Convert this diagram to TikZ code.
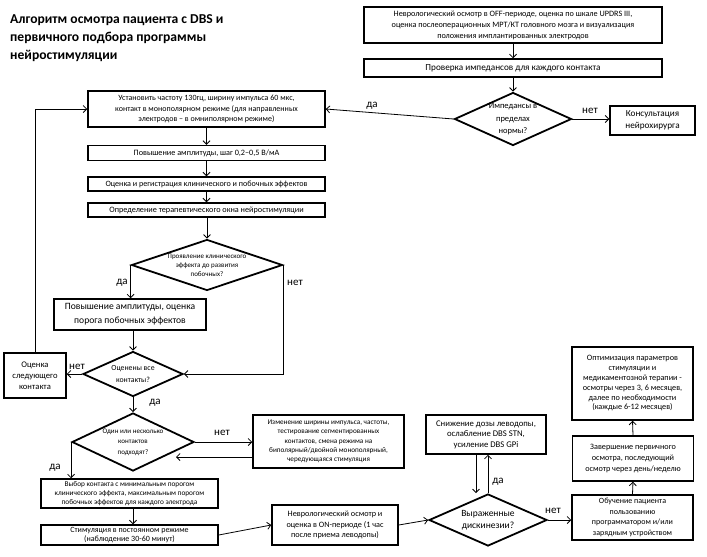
\documentclass[tikz,border=0pt]{standalone}
\usepackage{fontspec}
\setmainfont{Carlito}
\usetikzlibrary{shapes.geometric,arrows.meta}
\newcommand\myfs[2]{\fontsize{#1}{#2}\selectfont}
\begin{document}
\begin{tikzpicture}[x=1pt,y=-1pt,
  box/.style={draw, line width=1.5pt, inner sep=0pt, align=center},
  dia/.style={draw, diamond, line width=1.8pt, inner sep=0pt},
  arr/.style={line width=0.8pt, -{Straight Barb[length=3.5pt,width=7pt]}},
  lbl/.style={font=\myfs{11}{12}, inner sep=0pt},
  ]
\useasboundingbox[fill=white] (0,0) rectangle (707,557);

\node[anchor=north west, align=left, inner sep=0pt, font=\myfs{13.6}{18}\bfseries] (title) at (10,14)
  {Алгоритм осмотра пациента с DBS и\\первичного подбора программы\\нейростимуляции};

\node[box, minimum width=298pt, minimum height=36pt, font=\myfs{8.2}{11}] (b1) at (513,25)
  {Неврологический осмотр в OFF-периоде, оценка по шкале UPDRS III,\\оценка послеоперационных МРТ/КТ головного мозга и визуализация\\положения имплантированных электродов};
\node[box, minimum width=298pt, minimum height=18pt, font=\myfs{9.2}{11}] (b2) at (513,68)
  {Проверка импедансов для каждого контакта};
\node[dia, minimum width=117pt, minimum height=53pt,
  label={[font=\myfs{8.5}{12.5}, align=center]center:{Импедансы в\\пределах\\нормы?}}] (d1) at (513,119) {};
\node[box, minimum width=85pt, minimum height=29pt, font=\myfs{9.2}{12}] (cons) at (652.5,120.5)
  {Консультация\\нейрохирурга};

\node[box, minimum width=237pt, minimum height=36pt, font=\myfs{8}{10.5}] (b3) at (206.5,109)
  {Установить частоту 130гц, ширину импульса 60 мкс,\\контакт в монополярном режиме (для направленных\\электродов – в омниполярном режиме)};
\node[box, minimum width=237pt, minimum height=15pt, font=\myfs{8.2}{10}] (b4) at (206.5,153)
  {Повышение амплитуды, шаг 0,2–0,5 В/мА};
\node[box, minimum width=237pt, minimum height=14pt, font=\myfs{8.1}{10}] (b5) at (206.5,184)
  {Оценка и регистрация клинического и побочных эффектов};
\node[box, minimum width=237pt, minimum height=14pt, font=\myfs{8.2}{10}] (b6) at (206.5,210)
  {Определение терапевтического окна нейростимуляции};
\node[dia, minimum width=151pt, minimum height=51pt,
  label={[font=\myfs{7}{9.2}, align=center]center:{Проявление клинического\\эффекта до развития\\побочных?}}] (d2) at (207,265) {};
\node[box, minimum width=152pt, minimum height=31pt, font=\myfs{9.6}{14}] (b7) at (130,314.5)
  {Повышение амплитуды, оценка\\порога побочных эффектов};
\node[dia, minimum width=100pt, minimum height=45pt,
  label={[font=\myfs{7.8}{12}, align=center]center:{Оценены все\\контакты?}}] (d3) at (133,374) {};
\node[box, minimum width=62pt, minimum height=45pt, font=\myfs{8.6}{11}] (nxt) at (35,375.5)
  {Оценка\\следующего\\контакта};
\node[dia, minimum width=122pt, minimum height=58pt,
  label={[font=\myfs{7}{10.3}, align=center]center:{Один или несколько\\контактов\\подходят?}}] (d4) at (133,442) {};
\node[box, minimum width=151pt, minimum height=53pt, font=\myfs{7.2}{9.3}] (chg) at (328.5,441.5)
  {Изменение ширины импульса, частоты,\\тестирование сегментированных\\контактов, смена режима на\\биполярный/двойной монополярный,\\чередующаяся стимуляция};
\coordinate (cret) at (176,457);
\node[box, minimum width=177pt, minimum height=29pt, font=\myfs{7.3}{9.2}] (sel) at (129.5,493.5)
  {Выбор контакта с минимальным порогом\\клинического эффекта, максимальным порогом\\побочных эффектов для каждого электрода};
\node[box, minimum width=177pt, minimum height=20pt, font=\myfs{8}{9.6}] (stim) at (129.5,535)
  {Стимуляция в постоянном режиме\\(наблюдение 30-60 минут)};
\node[box, minimum width=126pt, minimum height=40pt, font=\myfs{8.2}{10.5}] (on) at (335,525)
  {Неврологический осмотр и\\оценка в ON-периоде (1 час\\после приема леводопы)};
\node[dia, minimum width=118pt, minimum height=52pt,
  label={[font=\myfs{9.5}{11.5}, align=center]center:{Выраженные\\дискинезии?}}] (d5) at (488,520) {};
\node[box, minimum width=120pt, minimum height=39pt, font=\myfs{8.7}{10.5}] (lev) at (486,434.5)
  {Снижение дозы леводопы,\\ослабление DBS STN,\\усиление DBS GPi};
\node[box, minimum width=121pt, minimum height=45pt, font=\myfs{8}{10.6}] (edu) at (632.5,517.5)
  {Обучение пациента\\пользованию\\программатором и/или\\зарядным устройством};
\node[box, minimum width=121pt, minimum height=45pt, font=\myfs{8.2}{10.8}] (fin) at (633,458.5)
  {Завершение первичного\\осмотра, последующий\\осмотр через день/неделю};
\node[box, minimum width=121pt, minimum height=73pt, font=\myfs{8.2}{9.8}] (opt) at (632.5,383.5)
  {Оптимизация параметров\\стимуляции и\\медикаментозной терапии -\\осмотры через 3, 6 месяцев,\\далее по необходимости\\(каждые 6-12 месяцев)};

% connectors
\draw[arr] (b1) -- (b2);
\draw[arr] (b2) -- (d1);
\draw[arr] (d1.east) -- (d1.east -| cons.west);
\draw[arr] (d1.west) -- (b3.east);
\draw[arr] (b3) -- (b4);
\draw[arr] (b4) -- (b5);
\draw[arr] (b5) -- (b6);
\draw[arr] (b6.south -| d2.north) -- (d2.north);
\draw[arr] (d2.west) -- (d2.west |- b7.north);
\draw[arr] (d2.east) -- (d2.east |- d3.east) -- (d3.east);
\draw[arr] (b7.south -| d3.north) -- (d3.north);
\draw[arr] (d3.west) -- (d3.west -| nxt.east);
\draw[arr] (nxt.north) -- (nxt.north |- b3.west) -- (b3.west);
\draw[arr] (d3.south) -- (d4.north);
\draw[arr] (d4.east) -- (d4.east -| chg.west);
\draw[arr] (chg.west |- cret) -- (cret);
\draw[arr] (d4.west) -- (d4.west |- sel.north);
\draw[arr] (sel.south -| d4.south) -- (stim.north -| d4.south);
\draw[arr] (stim.east) -- (on.west);
\draw[arr] (on.east) -- (d5.west);
\draw[arr] (d5.north) -- (d5.north |- lev.south);
\draw[arr] ([xshift=-10pt]lev.south) -- ([xshift=-10pt]lev.south |- d5.north);
\draw[arr] (d5.east) -- (d5.east -| edu.west);
\draw[arr] (edu.north) -- (fin.south);
\draw[arr] (fin.north) -- (opt.south);

% labels
\node[lbl] (l1) at (372,106) {да};
\node[lbl] (l2) at (590,111) {нет};
\node[lbl] (l3) at (122,283) {да};
\node[lbl] (l4) at (295,283) {нет};
\node[lbl] (l5) at (77,367) {нет};
\node[lbl] (l6) at (155,403) {да};
\node[lbl] (l7) at (222,433) {нет};
\node[lbl] (l8) at (55,468) {да};
\node[lbl] (l9) at (498,482) {да};
\node[lbl] (l10) at (553,511) {нет};
\end{tikzpicture}
\end{document}
